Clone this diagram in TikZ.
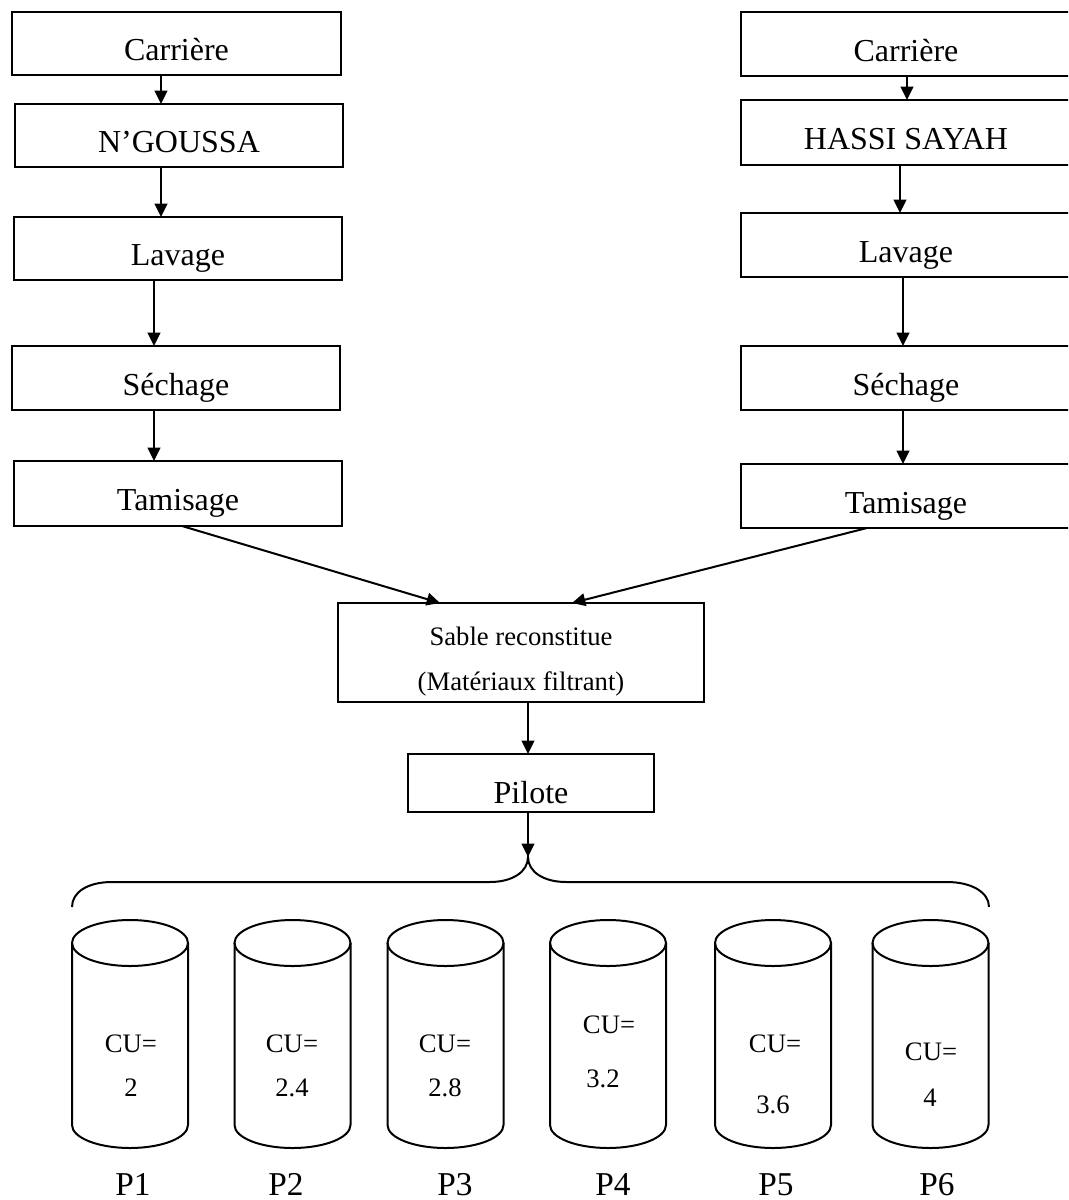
\documentclass[tikz,border=0pt]{standalone}
\usepackage{fontspec}
\setmainfont{Liberation Serif}
\usetikzlibrary{arrows.meta}
\begin{document}
\begin{tikzpicture}[x=0.75pt,y=0.75pt,
  box/.style={draw, line width=1.5pt, rectangle, inner sep=0pt, outer sep=0pt,
    font=\fontsize{24}{28}\selectfont, text height=25.5pt, text depth=0pt},
  arr/.style={line width=1.5pt, -{Triangle[length=10pt,width=9.5pt]}},
  cyl/.style={line width=1.5pt},
  cutext/.style={font=\fontsize{20}{24}\selectfont, anchor=base, inner sep=0pt},
  sabletext/.style={font=\fontsize{20}{24}\selectfont, anchor=base, inner sep=0pt},
  plabel/.style={font=\fontsize{25}{30}\selectfont, anchor=base, inner sep=0pt}]
\useasboundingbox (0,0) rectangle (1068,-1200);
\clip (0,0) rectangle (1068,-1200);

% left column
\node[box, minimum width=246.75pt, minimum height=47.25pt] (carL) at (176.5,-43.5) {Carrière};
\node[box, minimum width=246pt, minimum height=47.25pt] (ngo) at (179,-135.5) {N’GOUSSA};
\node[box, minimum width=246pt, minimum height=47.25pt] (lavL) at (178,-248.5) {Lavage};
\node[box, minimum width=246pt, minimum height=48pt] (secL) at (176,-378) {Séchage};
\node[box, minimum width=246pt, minimum height=48.75pt] (tamL) at (178,-493.5) {Tamisage};

% right column
\node[box, minimum width=247.5pt, minimum height=48pt] (carR) at (906,-44) {Carrière};
\node[box, minimum width=247.5pt, minimum height=48.75pt] (has) at (906,-132.5) {HASSI SAYAH};
\node[box, minimum width=247.5pt, minimum height=48pt] (lavR) at (906,-245) {Lavage};
\node[box, minimum width=247.5pt, minimum height=48pt] (secR) at (906,-378) {Séchage};
\node[box, minimum width=247.5pt, minimum height=48pt] (tamR) at (906,-496) {Tamisage};

% centre
\node[box, minimum width=274.5pt, minimum height=74.25pt] (sable) at (521,-652.5) {};
\node[sabletext] (sable1) at (521,-645) {Sable reconstitue};
\node[sabletext] (sable2) at (521,-690) {(Matériaux filtrant)};
\node[box, minimum width=184.5pt, minimum height=43.5pt, text height=30pt] (pilote) at (531,-783) {Pilote};

% arrows
\draw[arr] (carL.south -| 161,0) -- (ngo.north -| 161,0);
\draw[arr] (ngo.south -| 161,0) -- (lavL.north -| 161,0);
\draw[arr] (lavL.south -| 154,0) -- (secL.north -| 154,0);
\draw[arr] (secL.south -| 154,0) -- (tamL.north -| 154,0);
\draw[arr] (carR.south -| 907,0) -- (has.north -| 907,0);
\draw[arr] (has.south -| 900,0) -- (lavR.north -| 900,0);
\draw[arr] (lavR.south -| 903,0) -- (secR.north -| 903,0);
\draw[arr] (secR.south -| 903,0) -- (tamR.north -| 903,0);
\draw[arr] (tamL.south -| 182,0) -- (sable.north -| 440,0);
\draw[arr] (tamR.south -| 867,0) -- (sable.north -| 572,0);
\draw[arr] (sable.south -| 528,0) -- (pilote.north -| 528,0);

% brace
\coordinate (bt) at (528,-857);
\draw[line width=1.5pt] (72,-907) .. controls (72,-892) and (88,-882) .. (112,-882)
  -- (490,-882) .. controls (512,-882) and (528,-872) .. (bt)
  .. controls (528,-872) and (544,-882) .. (566,-882)
  -- (947,-882) .. controls (971,-882) and (989,-892) .. (989,-907);
\draw[arr] (pilote.south -| bt) -- (bt);

% cylinders
\foreach \cx in {130,292.5,445.5,608,773,930.5} {
  \draw[cyl] (\cx,-943) ellipse [x radius=43.5pt, y radius=17.25pt];
  \draw[cyl] (\cx-58,-943) -- (\cx-58,-1125)
    arc[start angle=180, end angle=360, x radius=43.5pt, y radius=17.25pt]
    -- (\cx+58,-943);
}

% cylinder texts
\node[cutext] (cu1) at (131,-1052) {CU=};
\node[cutext] (v1) at (131,-1096) {2};
\node[cutext] (cu2) at (292,-1052) {CU=};
\node[cutext] (v2) at (292,-1096) {2.4};
\node[cutext] (cu3) at (445,-1052) {CU=};
\node[cutext] (v3) at (445,-1096) {2.8};
\node[cutext] (cu4) at (609,-1033) {CU=};
\node[cutext] (v4) at (603,-1087) {3.2};
\node[cutext] (cu5) at (775,-1052) {CU=};
\node[cutext] (v5) at (773,-1113) {3.6};
\node[cutext] (cu6) at (931,-1060) {CU=};
\node[cutext] (v6) at (930,-1106) {4};

% labels
\node[plabel] (p1) at (133,-1195) {P1};
\node[plabel] (p2) at (286,-1195) {P2};
\node[plabel] (p3) at (455,-1195) {P3};
\node[plabel] (p4) at (613,-1195) {P4};
\node[plabel] (p5) at (776,-1195) {P5};
\node[plabel] (p6) at (937,-1195) {P6};
\end{tikzpicture}
\end{document}
